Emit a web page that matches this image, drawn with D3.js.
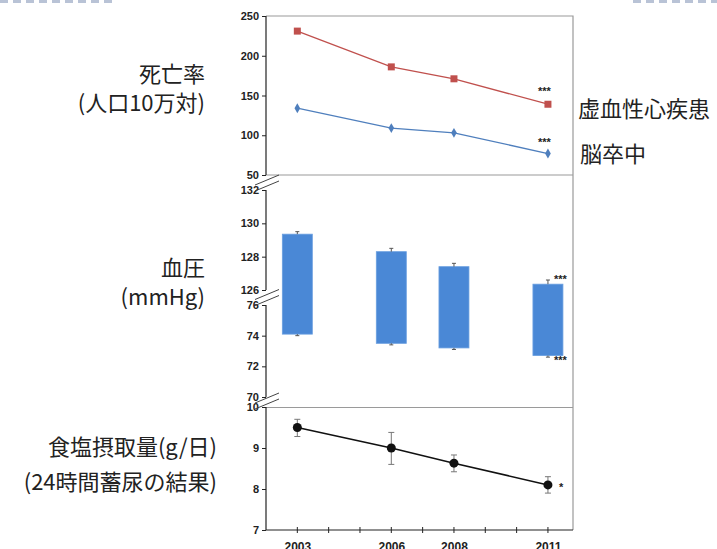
<!DOCTYPE html>
<html>
<head>
<meta charset="utf-8">
<script src="https://cdn.jsdelivr.net/npm/d3@7"></script>
<style>
  html, body { margin: 0; padding: 0; background: #fff; }
  svg { display: block; }
</style>
</head>
<body>
<svg id="chart" width="717" height="549"></svg>
<script>
// values
const years = [2003, 2006, 2008, 2011];
const yearTicks = [2003, 2006, 2008, 2011];
const minorYears = [2003, 2004, 2005, 2006, 2007, 2008, 2009, 2010, 2011];

const ihdRate = [231, 186, 171, 139];
const strokeRate = [134, 109, 103, 77];
const rateTicks = [50, 100, 150, 200, 250];

const systolic = [129.35, 128.3, 127.4, 126.35];
const systolicHi = [129.5, 128.5, 127.6, 126.6];
const diastolic = [74.1, 73.5, 73.2, 72.7];
const diastolicLo = [74.0, 73.4, 73.1, 72.6];
const sysTicks = [126, 128, 130, 132];
const diaTicks = [70, 72, 74, 76];

const salt = [9.5, 9.0, 8.63, 8.1];
const saltLo = [9.28, 8.6, 8.42, 7.9];
const saltHi = [9.7, 9.38, 8.83, 8.3];
const saltTicks = [7, 8, 9, 10];

const RED = "#c0504d";
const BLUE = "#4f7fbd";
const BAR = "#4a88d6";
const AXIS = "#222";
const FRAME = "#9a9a9a";
const CJK = "'Noto Sans CJK JP', 'Noto Sans', sans-serif";
const NUM = "'Liberation Sans', Arial, sans-serif";

const svg = d3.select("#chart");

const left = 266, right = 573;
const x = d3.scaleLinear().domain([2002, 2011.8]).range([left, right]);

const yRate = d3.scaleLinear().domain([50, 250]).range([175, 16]);
const ySys = d3.scaleLinear().domain([126, 132]).range([290, 190]);
const yDia = d3.scaleLinear().domain([70, 76]).range([397, 305]);
const ySalt = d3.scaleLinear().domain([7, 10]).range([530, 407]);

// decorative dashed lines at the top edge
svg.append("line").attr("x1", 0).attr("x2", 113).attr("y1", 1.5).attr("y2", 1.5)
  .attr("stroke", "#b9c3d6").attr("stroke-width", 3).attr("stroke-dasharray", "8,5");
svg.append("line").attr("x1", 633).attr("x2", 717).attr("y1", 1.5).attr("y2", 1.5)
  .attr("stroke", "#b9c3d6").attr("stroke-width", 3).attr("stroke-dasharray", "8,5");

// frame (top, right, separators)
const frame = svg.append("g").attr("stroke", FRAME).attr("stroke-width", 1.2).attr("fill", "none");
frame.append("path").attr("d", `M${left},16H${right}V530`);
frame.append("line").attr("x1", left).attr("x2", right).attr("y1", 175).attr("y2", 175);
frame.append("line").attr("x1", left).attr("x2", right).attr("y1", 407.5).attr("y2", 407.5);

function leftAxis(scale, ticks, y0, y1) {
  const g = svg.append("g").attr("transform", `translate(${left},0)`)
    .call(d3.axisLeft(scale).tickValues(ticks).tickFormat(d3.format("d"))
      .tickSize(4).tickPadding(3).tickSizeOuter(0));
  g.select(".domain").remove();
  g.append("line").attr("y1", y0).attr("y2", y1).attr("stroke", AXIS).attr("stroke-width", 1.2);
  g.selectAll(".tick line").attr("stroke", AXIS);
  g.selectAll(".tick text").attr("font-family", NUM).attr("font-weight", "bold")
    .attr("font-size", 11).attr("fill", AXIS);
  return g;
}

leftAxis(yRate, rateTicks, 16, 175);
leftAxis(ySys, sysTicks, 190, 290);
leftAxis(yDia, diaTicks, 305, 397);
leftAxis(ySalt, saltTicks, 407, 530);

// axis break marks
function breakMark(yc) {
  const g = svg.append("g").attr("stroke", "#444").attr("stroke-width", 1).attr("fill", "none");
  [-3, 3].forEach((o) => {
    g.append("line").attr("x1", left - 11).attr("y1", yc + o + 5)
      .attr("x2", left + 13).attr("y2", yc + o - 5);
  });
}
breakMark(183);
breakMark(297.5);
breakMark(401);

// bottom axis
const xAxis = svg.append("g").attr("transform", "translate(0,530)")
  .call(d3.axisBottom(x).tickValues(yearTicks).tickFormat(d3.format("d")).tickSize(0).tickPadding(12));
xAxis.select(".domain").remove();
xAxis.append("line").attr("x1", left).attr("x2", right).attr("stroke", AXIS).attr("stroke-width", 1.2);
xAxis.selectAll(".tick text").attr("font-family", NUM).attr("font-weight", "bold")
  .attr("font-size", 12).attr("fill", AXIS);
xAxis.selectAll("line.minor").data(minorYears).join("line").attr("class", "minor")
  .attr("x1", (d) => x(d)).attr("x2", (d) => x(d)).attr("y1", -3).attr("y2", 3)
  .attr("stroke", AXIS);

// panel 1: mortality lines
const rateLine = d3.line().x((d, i) => x(years[i])).y((d) => yRate(d));
svg.append("path").datum(ihdRate).attr("d", rateLine).attr("fill", "none")
  .attr("stroke", RED).attr("stroke-width", 1.3);
svg.append("path").datum(strokeRate).attr("d", rateLine).attr("fill", "none")
  .attr("stroke", BLUE).attr("stroke-width", 1.3);
svg.selectAll("rect.ihd").data(ihdRate).join("rect").attr("class", "ihd")
  .attr("x", (d, i) => x(years[i]) - 3.5).attr("y", (d) => yRate(d) - 3.5)
  .attr("width", 7).attr("height", 7).attr("fill", RED);
svg.selectAll("path.stroke-pt").data(strokeRate).join("path").attr("class", "stroke-pt")
  .attr("d", d3.symbol(d3.symbolDiamond, 28))
  .attr("transform", (d, i) => `translate(${x(years[i])},${yRate(d)})`)
  .attr("fill", BLUE);

// panel 2: blood pressure bars spanning the break
const barW = 30;
const bp = years.map((yr, i) => ({ yr, sys: systolic[i], hi: systolicHi[i], dia: diastolic[i], lo: diastolicLo[i] }));
svg.selectAll("rect.bp").data(bp).join("rect").attr("class", "bp")
  .attr("x", (d) => x(d.yr) - barW / 2).attr("y", (d) => ySys(d.sys))
  .attr("width", barW).attr("height", (d) => yDia(d.dia) - ySys(d.sys))
  .attr("fill", BAR).attr("stroke", "#6a9fe0").attr("stroke-width", 0.8);
const errG = svg.append("g").attr("stroke", "#555").attr("stroke-width", 1);
bp.forEach((d) => {
  const cx = x(d.yr);
  errG.append("path").attr("d", `M${cx},${ySys(d.sys)}V${ySys(d.hi)}M${cx - 2},${ySys(d.hi)}H${cx + 2}`);
  errG.append("path").attr("d", `M${cx},${yDia(d.dia)}V${yDia(d.lo)}M${cx - 2},${yDia(d.lo)}H${cx + 2}`);
});

// panel 3: salt intake
const saltG = svg.append("g").attr("stroke", "#777").attr("stroke-width", 1);
salt.forEach((v, i) => {
  const cx = x(years[i]);
  saltG.append("path").attr("d",
    `M${cx},${ySalt(saltLo[i])}V${ySalt(saltHi[i])}M${cx - 3},${ySalt(saltLo[i])}H${cx + 3}M${cx - 3},${ySalt(saltHi[i])}H${cx + 3}`);
});
svg.append("path").datum(salt)
  .attr("d", d3.line().x((d, i) => x(years[i])).y((d) => ySalt(d)))
  .attr("fill", "none").attr("stroke", "#111").attr("stroke-width", 1.5);
svg.selectAll("circle.salt").data(salt).join("circle").attr("class", "salt")
  .attr("cx", (d, i) => x(years[i])).attr("cy", (d) => ySalt(d)).attr("r", 4.5).attr("fill", "#111");

// significance marks
const stars = [
  { t: "***", x: x(2011) - 10, y: yRate(ihdRate[3]) - 9 },
  { t: "***", x: x(2011) - 10, y: yRate(strokeRate[3]) - 8 },
  { t: "***", x: x(2011) + 6, y: ySys(systolic[3]) - 1 },
  { t: "***", x: x(2011) + 6, y: yDia(diastolic[3]) + 8 },
  { t: "*", x: x(2011) + 11, y: ySalt(salt[3]) + 6 },
];
svg.selectAll("text.star").data(stars).join("text").attr("class", "star")
  .attr("x", (d) => d.x).attr("y", (d) => d.y).text((d) => d.t)
  .attr("font-family", NUM).attr("font-weight", "bold").attr("font-size", 11).attr("fill", "#222");

// labels
const labels = [
  { t: "死亡率", x: 205, y: 82, a: "end" },
  { t: "(人口10万対)", x: 205, y: 111, a: "end" },
  { t: "血圧", x: 205, y: 276, a: "end" },
  { t: "(mmHg)", x: 205, y: 305, a: "end" },
  { t: "食塩摂取量(g/日)", x: 217, y: 455, a: "end" },
  { t: "(24時間蓄尿の結果)", x: 217, y: 490, a: "end" },
  { t: "虚血性心疾患", x: 578, y: 117, a: "start" },
  { t: "脳卒中", x: 580, y: 162, a: "start" },
];
svg.selectAll("text.lab").data(labels).join("text").attr("class", "lab")
  .attr("x", (d) => d.x).attr("y", (d) => d.y).attr("text-anchor", (d) => d.a)
  .attr("font-family", CJK).attr("font-size", 22).attr("fill", "#222").text((d) => d.t);
</script>
</body>
</html>
